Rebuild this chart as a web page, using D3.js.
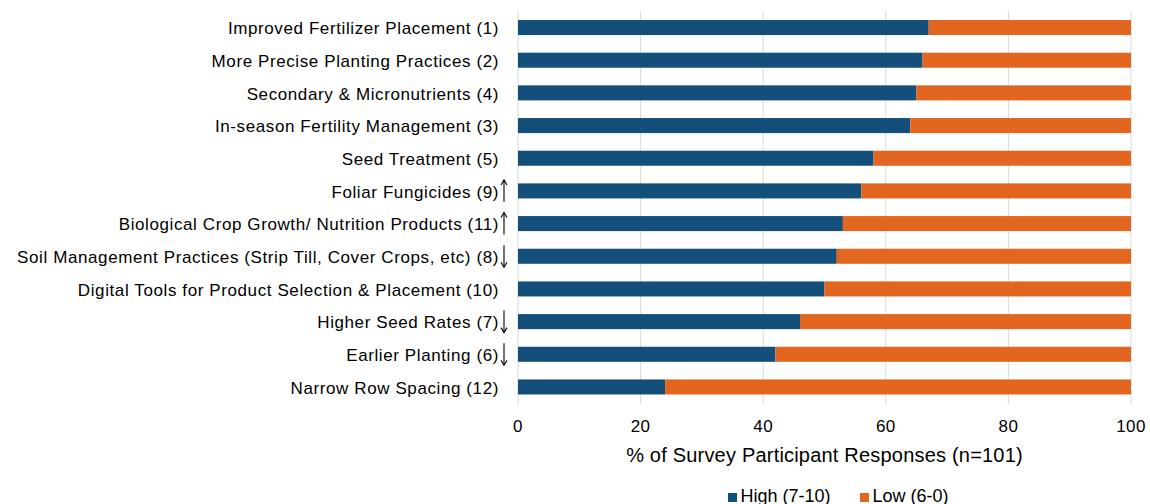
<!DOCTYPE html>
<html>
<head>
<meta charset="utf-8">
<script src="https://cdn.jsdelivr.net/npm/d3@7"></script>
<style>
  body { margin: 0; background: #fff; }
  text { font-family: "Liberation Sans", Arial, sans-serif; fill: #000; }
</style>
</head>
<body>
<div id="chart"></div>
<script>
var categories = [
  'Improved Fertilizer Placement (1)',
  'More Precise Planting Practices (2)',
  'Secondary & Micronutrients (4)',
  'In-season Fertility Management (3)',
  'Seed Treatment (5)',
  'Foliar Fungicides (9)',
  'Biological Crop Growth/ Nutrition Products (11)',
  'Soil Management Practices (Strip Till, Cover Crops, etc) (8)',
  'Digital Tools for Product Selection & Placement (10)',
  'Higher Seed Rates (7)',
  'Earlier Planting (6)',
  'Narrow Row Spacing (12)'
];
var trend = ['', '', '', '', '', 'up', 'up', 'down', '', 'down', 'down', ''];
var high = [67, 66, 65, 64, 58, 56, 53, 52, 50, 46, 42, 24];
var low = [33, 34, 35, 36, 42, 44, 47, 48, 50, 54, 58, 76];
var xTicks = [0, 20, 40, 60, 80, 100];

var blue = '#134f7a', orange = '#e2661f';

var svg = d3.select('#chart').append('svg')
  .attr('width', 1150)
  .attr('height', 504);

var x = d3.scaleLinear().domain([0, 100]).range([518, 1131]);
var y = d3.scaleBand().domain(categories).range([11.2, 403.3]).paddingInner(0.54).paddingOuter(0.27);

// gridlines
svg.append('g').selectAll('line')
  .data(xTicks)
  .enter()
  .append('line')
  .attr('x1', function (d) { return x(d); })
  .attr('x2', function (d) { return x(d); })
  .attr('y1', 11)
  .attr('y2', 404)
  .attr('stroke', '#d9d9d9')
  .attr('stroke-width', 1);

var rows = svg.append('g').selectAll('g')
  .data(categories)
  .enter()
  .append('g');

rows.append('rect')
  .attr('x', x(0))
  .attr('y', function (d) { return y(d); })
  .attr('width', function (d, i) { return x(high[i]) - x(0); })
  .attr('height', y.bandwidth())
  .attr('fill', blue);

rows.append('rect')
  .attr('x', function (d, i) { return x(high[i]); })
  .attr('y', function (d) { return y(d); })
  .attr('width', function (d, i) { return x(high[i] + low[i]) - x(high[i]); })
  .attr('height', y.bandwidth())
  .attr('fill', orange);

rows.append('text')
  .attr('x', 499)
  .attr('y', function (d) { return y(d) + y.bandwidth() / 2; })
  .attr('dy', '0.4em')
  .attr('text-anchor', 'end')
  .attr('font-size', 17)
  .attr('letter-spacing', '0.6px')
  .text(function (d) { return d; });

// trend arrows
rows.filter(function (d, i) { return trend[i] !== ''; })
  .each(function (d) {
    var i = categories.indexOf(d);
    var cy = y(d) + y.bandwidth() / 2;
    var g = d3.select(this);
    var ax = 504;
    var top = cy - 11, bot = cy + 11;
    g.append('line')
      .attr('x1', ax).attr('x2', ax)
      .attr('y1', top).attr('y2', bot)
      .attr('stroke', '#000').attr('stroke-width', 1.1);
    var tip = trend[i] === 'up' ? top : bot;
    var dir = trend[i] === 'up' ? 1 : -1;
    g.append('path')
      .attr('d', 'M' + (ax - 3) + ',' + (tip + dir * 5) + 'L' + ax + ',' + tip + 'L' + (ax + 3) + ',' + (tip + dir * 5))
      .attr('fill', 'none')
      .attr('stroke', '#000')
      .attr('stroke-width', 1.1);
  });

// x tick labels
svg.append('g').selectAll('text')
  .data(xTicks)
  .enter()
  .append('text')
  .attr('x', function (d) { return x(d); })
  .attr('y', 432)
  .attr('text-anchor', 'middle')
  .attr('font-size', 17)
  .attr('letter-spacing', '0.4px')
  .text(function (d) { return d; });

svg.append('text')
  .attr('x', x(50))
  .attr('y', 462)
  .attr('text-anchor', 'middle')
  .attr('font-size', 20)
  .attr('letter-spacing', '0.2px')
  .text('% of Survey Participant Responses (n=101)');

// legend
var legend = [['High (7-10)', blue, 728], ['Low (6-0)', orange, 860]];
var lg = svg.append('g').selectAll('g')
  .data(legend)
  .enter()
  .append('g');
lg.append('rect')
  .attr('x', function (d) { return d[2]; })
  .attr('y', 493)
  .attr('width', 9)
  .attr('height', 9)
  .attr('fill', function (d) { return d[1]; });
lg.append('text')
  .attr('x', function (d) { return d[2] + 12.5; })
  .attr('y', 501.5)
  .attr('font-size', 18)
  .text(function (d) { return d[0]; });
</script>
</body>
</html>
